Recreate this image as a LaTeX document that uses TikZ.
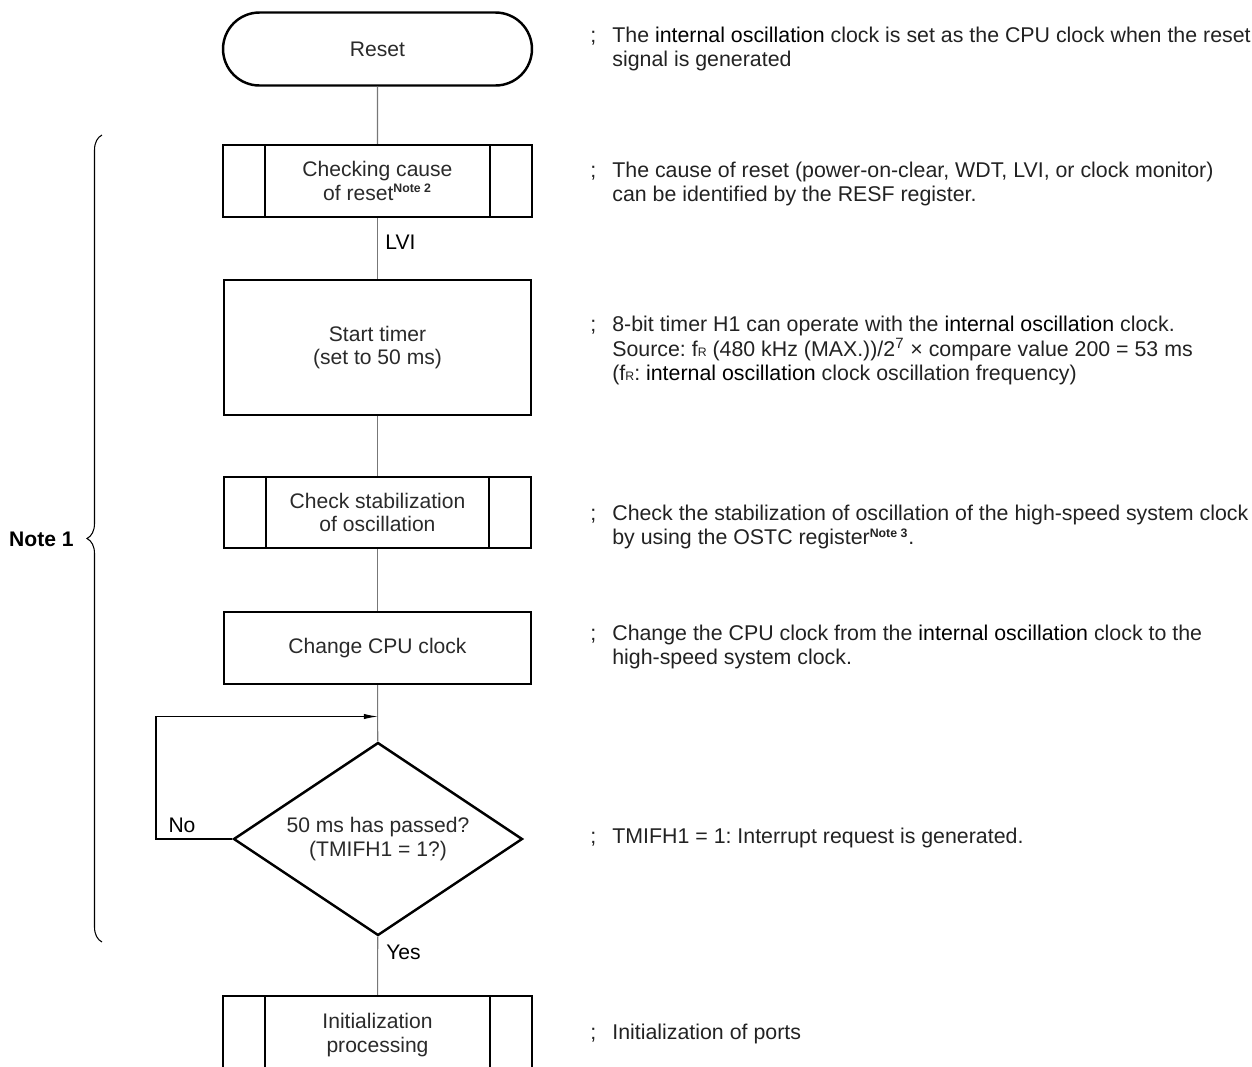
\documentclass[tikz,border=0pt]{standalone}
\usepackage{fontspec}
\setmainfont{Liberation Sans}
\usetikzlibrary{shapes.misc,shapes.geometric,arrows.meta,decorations.pathreplacing}
\definecolor{boxtext}{HTML}{2A2A2A}
\definecolor{notetext}{HTML}{222222}
\definecolor{connc}{HTML}{777777}
\frenchspacing
\newcommand\notesemi{\makebox[0.44cm][l]{;}}
\newcommand\hlt[1]{\textcolor{black}{#1}}
\newcommand\notesup[1]{\textsuperscript{\fontsize{7}{7}\selectfont\bfseries #1}}
\newcommand\fR{f{\fontsize{7}{7}\selectfont R}}
\begin{document}
\begin{tikzpicture}[x=0.02cm,y=-0.02cm,
  every node/.style={font=\fontsize{12}{13.6}\selectfont},
  termbox/.style={rounded rectangle, draw, line width=1.4pt, minimum width=6.18cm, minimum height=1.46cm, inner sep=0pt, text=boxtext, align=center},
  procbox/.style={rectangle, draw, line width=1.4pt, inner sep=0pt, text=boxtext, align=center},
  subbox/.style={procbox, path picture={
     \draw[line width=1.4pt] ([xshift=0.84cm]path picture bounding box.north west) -- ([xshift=0.84cm]path picture bounding box.south west)
       ([xshift=-0.84cm]path picture bounding box.north east) -- ([xshift=-0.84cm]path picture bounding box.south east);}},
  decbox/.style={diamond, aspect=1.5, draw, line width=1.4pt, inner sep=0pt, minimum width=5.78cm, minimum height=3.86cm, text=boxtext, align=center},
  conn/.style={draw=connc, line width=0.6pt},
  loopline/.style={draw=black, line width=0.6pt, -{Latex[length=8pt,width=3pt]}},
  lbl/.style={text=black, inner sep=0pt},
  note/.style={anchor=west, inner sep=0pt, text=notetext, font=\fontsize{12.15}{13.6}\selectfont}]
\useasboundingbox (0,0) rectangle (1252,1066);
\clip (0,0) rectangle (1252,1066);

% flowchart nodes
\node[termbox] (reset) at (377.5,49) {Reset};
\node[subbox, minimum width=6.18cm, minimum height=1.44cm] (check) at (377.5,181) {Checking cause\\of reset\notesup{Note 2}};
\node[procbox, minimum width=6.14cm, minimum height=2.7cm] (timer) at (377.5,347.5) {Start timer\\(set to 50 ms)};
\node[subbox, minimum width=6.14cm, minimum height=1.42cm] (stab) at (377.5,512.5) {Check stabilization\\of oscillation};
\node[procbox, minimum width=6.14cm, minimum height=1.44cm] (cpu) at (377.5,648) {Change CPU clock};
\node[decbox] (dec) at (378,839) {50 ms has passed?\\(TMIFH1 = 1?)};
\node[subbox, minimum width=6.18cm, minimum height=1.56cm] (init) at (377.5,1035) {Initialization\\processing};

% connectors
\coordinate (loopin) at (378,716.5);
\draw[conn] (reset) -- (check);
\draw[conn] (check) -- (timer);
\draw[conn] (timer) -- (stab);
\draw[conn] (stab) -- (cpu);
\draw[conn] (cpu) -- (dec);
\draw[conn] (dec) -- (init);
\draw[loopline] (dec.west) -- (156,839) |- (loopin);

% labels
\node[lbl, anchor=west] (lvi) at (385,242) {LVI};
\node[lbl] (no) at (182,825) {No};
\node[lbl, anchor=west] (yes) at (386,952) {Yes};

% brace
\draw[line width=0.6pt, decorate, decoration={brace, amplitude=0.3cm}] (102,942) -- (102,135);
\node[lbl, anchor=east, font=\fontsize{12}{13.6}\selectfont\bfseries] (note1) at (74,539) {Note 1};

% notes
\node[note] (n1) at (590,50) {\begin{tabular}{@{}l@{}l@{}}\notesemi & The \hlt{internal oscillation} clock is set as the CPU clock when the reset\\ & signal is generated\end{tabular}};
\node[note] (n2) at (590,185) {\begin{tabular}{@{}l@{}l@{}}\notesemi & The cause of reset (power-on-clear, WDT, LVI, or clock monitor)\\ & can be identified by the RESF register.\end{tabular}};
\node[note] (n3) at (590,351) {\begin{tabular}{@{}l@{}l@{}}\notesemi & 8-bit timer H1 can operate with the \hlt{internal oscillation} clock.\\ & Source: \fR{} (480 kHz (MAX.))/2\textsuperscript{7} × compare value 200 = 53 ms\\ & (\fR: \hlt{internal oscillation} clock oscillation frequency)\end{tabular}};
\node[note] (n4) at (590,528) {\begin{tabular}{@{}l@{}l@{}}\notesemi & Check the stabilization of oscillation of the high-speed system clock\\ & by using the OSTC register\notesup{Note 3}.\end{tabular}};
\node[note] (n5) at (590,648) {\begin{tabular}{@{}l@{}l@{}}\notesemi & Change the CPU clock from the \hlt{internal oscillation} clock to the\\ & high-speed system clock.\end{tabular}};
\node[note] (n6) at (590,839) {\begin{tabular}{@{}l@{}l@{}}\notesemi & TMIFH1 = 1: Interrupt request is generated.\end{tabular}};
\node[note] (n7) at (590,1035) {\begin{tabular}{@{}l@{}l@{}}\notesemi & Initialization of ports\end{tabular}};
\end{tikzpicture}
\end{document}
